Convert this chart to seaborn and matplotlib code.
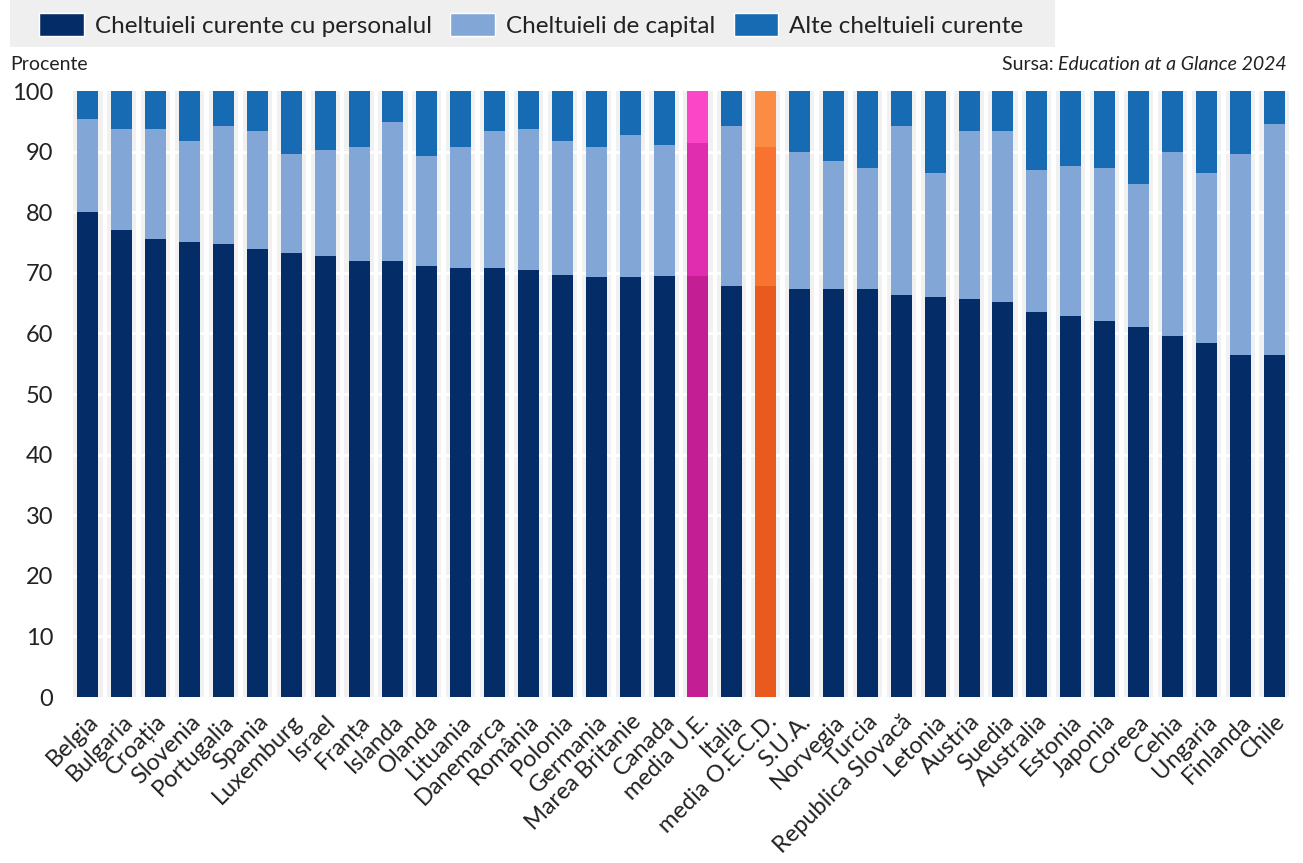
import numpy as np
import pandas as pd
import matplotlib.pyplot as plt
import seaborn as sns
from matplotlib.patches import Patch, Rectangle

# date (procente)
tari = ['Belgia', 'Bulgaria', 'Croația', 'Slovenia', 'Portugalia', 'Spania', 'Luxemburg',
        'Israel', 'Franța', 'Islanda', 'Olanda', 'Lituania', 'Danemarca', 'România',
        'Polonia', 'Germania', 'Marea Britanie', 'Canada', 'media U.E.', 'Italia',
        'media O.E.C.D.', 'S.U.A.', 'Norvegia', 'Turcia', 'Republica Slovacă', 'Letonia',
        'Austria', 'Suedia', 'Australia', 'Estonia', 'Japonia', 'Coreea', 'Cehia',
        'Ungaria', 'Finlanda', 'Chile']
personal = [80.0, 77.0, 75.5, 75.1, 74.7, 73.9, 73.2, 72.8, 71.9, 71.9, 71.2, 70.8, 70.8,
            70.5, 69.7, 69.3, 69.3, 69.4, 69.4, 67.8, 67.8, 67.4, 67.4, 67.4, 66.3, 66.0,
            65.6, 65.1, 63.6, 62.8, 62.1, 61.0, 59.5, 58.4, 56.4, 56.4]
capital = [15.3, 16.8, 18.3, 16.7, 19.5, 19.5, 16.4, 17.5, 18.8, 23.0, 18.0, 19.9, 22.6,
           23.3, 22.1, 21.4, 23.4, 21.7, 22.1, 26.4, 23.0, 22.6, 21.1, 19.9, 27.9, 20.5,
           27.8, 28.3, 23.4, 24.9, 25.2, 23.6, 30.5, 28.1, 33.2, 38.2]
alte = [4.7, 6.2, 6.2, 8.2, 5.8, 6.6, 10.4, 9.7, 9.3, 5.1, 10.8, 9.3, 6.6, 6.2, 8.2, 9.3,
        7.3, 8.9, 8.5, 5.8, 9.2, 10.0, 11.5, 12.7, 5.8, 13.5, 6.6, 6.6, 13.0, 12.3, 12.7,
        15.4, 10.0, 13.5, 10.4, 5.4]
y_ticks = [0, 10, 20, 30, 40, 50, 60, 70, 80, 90, 100]

c_pers, c_cap, c_alte = '#042c66', '#82a7d7', '#176bb2'
hl_ue = ('#c41e95', '#e02cae', '#fb46c8')
hl_oecd = ('#e95a1e', '#f7732f', '#fb8c44')

def culori(i):
    if tari[i] == 'media U.E.':
        return hl_ue
    if tari[i] == 'media O.E.C.D.':
        return hl_oecd
    return (c_pers, c_cap, c_alte)

df = pd.DataFrame({'tara': tari, 'personal': personal, 'capital': capital, 'alte': alte})
df['cap_top'] = df['personal'] + df['capital']
df['total'] = df['cap_top'] + df['alte']
df['fundal'] = 100

sns.set_style('white')
plt.rcParams['font.family'] = ['Lato', 'DejaVu Sans']
txt = '#222222'

fig = plt.figure(figsize=(13.03, 8.63), dpi=100)
ax = fig.add_axes([70 / 1303, 1 - 697 / 863, 1222 / 1303, 606 / 863])

# benzi gri in spatele barelor
sns.barplot(data=df, x='tara', y='fundal', color='#f1f1f1', width=0.86, ax=ax,
            saturation=1, zorder=0, linewidth=0)

pal_top = {t: culori(i)[2] for i, t in enumerate(tari)}
pal_mid = {t: culori(i)[1] for i, t in enumerate(tari)}
pal_bot = {t: culori(i)[0] for i, t in enumerate(tari)}
sns.barplot(data=df, x='tara', y='total', hue='tara', palette=pal_top, legend=False,
            width=0.62, saturation=1, ax=ax, zorder=3, linewidth=0)
sns.barplot(data=df, x='tara', y='cap_top', hue='tara', palette=pal_mid, legend=False,
            width=0.62, saturation=1, ax=ax, zorder=3, linewidth=0)
sns.barplot(data=df, x='tara', y='personal', hue='tara', palette=pal_bot, legend=False,
            width=0.62, saturation=1, ax=ax, zorder=3, linewidth=0)

for v in y_ticks[1:-1]:
    ax.axhline(v, color='white', lw=2, zorder=1)

ax.set_ylim(0, 100)
ax.set_xlim(-0.53, len(tari) - 0.47)
ax.set_yticks(y_ticks)
ax.set_yticklabels([str(v) for v in y_ticks], fontsize=17, color=txt)
ax.set_xticks(range(len(tari)))
ax.set_xticklabels(tari, rotation=45, ha='right', rotation_mode='anchor',
                   fontsize=17, color=txt)
ax.tick_params(axis='y', length=0, pad=12)
ax.tick_params(axis='x', length=0, pad=10)
ax.set_xlabel('')
ax.set_ylabel('')
sns.despine(ax=ax, left=True, bottom=True)

fig.text(10 / 1303, 1 - 64 / 863, 'Procente', fontsize=14, color=txt, va='center')
t_it = fig.text(1287 / 1303, 1 - 64 / 863, 'Education at a Glance 2024', fontsize=14,
                style='italic', color=txt, va='center', ha='right')
fig.canvas.draw()
bb = t_it.get_window_extent()
fig.text(bb.x0 / fig.bbox.width, 1 - 64 / 863, 'Sursa: ', fontsize=14, color=txt,
         va='center', ha='right')

# caseta legendei
fig.patches.append(Rectangle((10 / 1303, 1 - 47 / 863), 1045 / 1303, 47 / 863,
                             transform=fig.transFigure, facecolor='#efefef',
                             edgecolor='none', zorder=0))
handles = [Patch(facecolor=c_pers), Patch(facecolor=c_cap), Patch(facecolor=c_alte)]
leg = fig.legend(handles, ['Cheltuieli curente cu personalul', 'Cheltuieli de capital',
                           'Alte cheltuieli curente'],
                 loc='center left', bbox_to_anchor=(39 / 1303, 1 - 25 / 863), ncol=3,
                 fontsize=17.5, frameon=False,
                 handlelength=1.85, handleheight=1.07, handletextpad=0.45,
                 columnspacing=0.75, borderpad=0, borderaxespad=0)
for t in leg.get_texts():
    t.set_color(txt)

fig.savefig('out.png', dpi=100)
